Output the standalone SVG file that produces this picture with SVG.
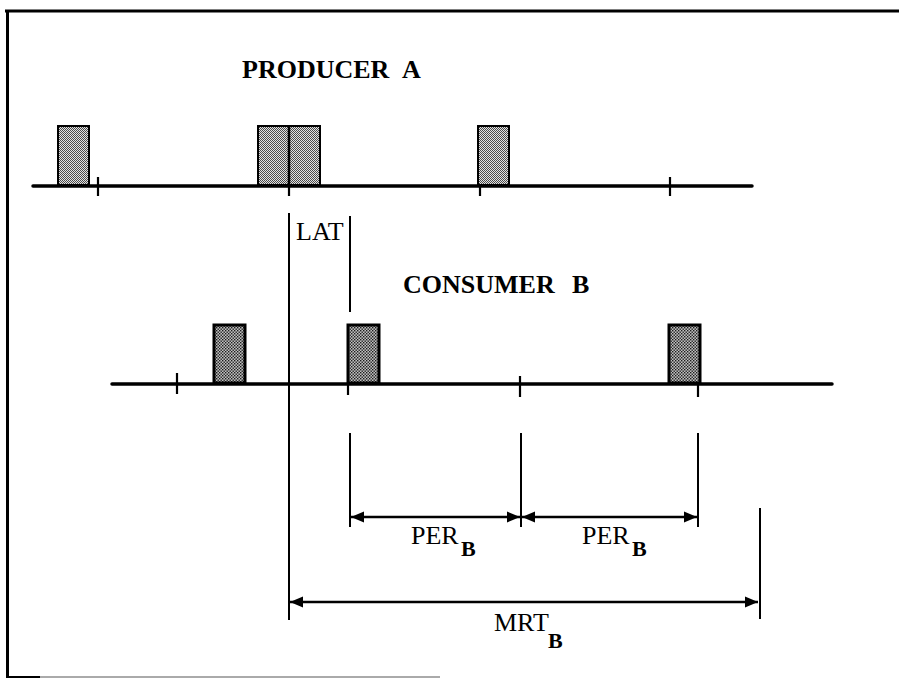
<svg xmlns="http://www.w3.org/2000/svg" width="899" height="679" viewBox="0 0 899 679">
<style>
.bold{font-family:"Liberation Serif","Times New Roman",serif;font-weight:bold;fill:#000}
.reg{font-family:"Liberation Serif","Times New Roman",serif;font-size:26px;fill:#000}
.sub{font-family:"Liberation Serif","Times New Roman",serif;font-weight:bold;font-size:22px;fill:#000}
.axis{stroke:#000;stroke-width:3.5;fill:none;stroke-linecap:round}
.tick{stroke:#000;stroke-width:2.2;fill:none}
.guide{stroke:#000;stroke-width:2;fill:none}
.dim{stroke:#000;stroke-width:2.5;fill:none;marker-start:url(#ah);marker-end:url(#ah)}
.pa{fill:url(#stipA);stroke:#000;stroke-width:2}
.pb{fill:url(#stipB);stroke:#000;stroke-width:3}
</style>
<defs>
<pattern id="stipA" width="2" height="2" patternUnits="userSpaceOnUse">
<rect width="2" height="2" fill="#e2e2e2"/>
<rect width="1" height="1" fill="#4a4a4a"/>
<rect x="1" y="1" width="1" height="1" fill="#4a4a4a"/>
</pattern>
<pattern id="stipB" width="3" height="3" patternUnits="userSpaceOnUse">
<rect width="3" height="3" fill="#c0c0c0"/>
<rect width="1.4" height="1.4" fill="#1a1a1a"/>
<rect x="1.5" y="1.5" width="1.4" height="1.4" fill="#1a1a1a"/>
</pattern>
<marker id="ah" markerUnits="userSpaceOnUse" markerWidth="14" markerHeight="12" viewBox="0 0 14 12" refX="13" refY="6" orient="auto-start-reverse">
<path d="M0,0.5 L13,6 L0,11.5 z" fill="#000"/>
</marker>
</defs>
<rect width="899" height="679" fill="#fff"/>
<g id="frame">
<line x1="5" y1="11" x2="899" y2="11" stroke="#000" stroke-width="3"/>
<line x1="7.5" y1="10" x2="7.5" y2="678" stroke="#000" stroke-width="3"/>
<line x1="6" y1="677" x2="40" y2="677" stroke="#000" stroke-width="2"/>
<line x1="40" y1="677" x2="440" y2="677" stroke="#aaa" stroke-width="2"/>
</g>
<g id="producer-a">
<text class="bold" x="242" y="78" font-size="26">PRODUCER</text>
<text class="bold" x="402" y="78" font-size="26">A</text>
<line class="axis" x1="33" y1="186" x2="752" y2="186"/>
<line class="tick" x1="98" y1="177" x2="98" y2="196"/>
<line class="tick" x1="289" y1="186" x2="289" y2="196"/>
<line class="tick" x1="480" y1="186" x2="480" y2="196"/>
<line class="tick" x1="670" y1="177" x2="670" y2="196"/>
<rect class="pa" x="58" y="126" width="31" height="59"/>
<rect class="pa" x="258" y="126" width="62" height="59"/>
<line x1="289" y1="126" x2="289" y2="185" stroke="#000" stroke-width="2.5"/>
<rect class="pa" x="478" y="126" width="31" height="59"/>
</g>
<g id="consumer-b">
<text class="bold" x="403" y="293" font-size="26">CONSUMER</text>
<text class="bold" x="572" y="293" font-size="26">B</text>
<line class="axis" x1="112" y1="384" x2="832" y2="384"/>
<line class="tick" x1="177" y1="373" x2="177" y2="394"/>
<line class="tick" x1="348" y1="384" x2="348" y2="395"/>
<line class="tick" x1="520" y1="376" x2="520" y2="397"/>
<line class="tick" x1="698" y1="384" x2="698" y2="397"/>
<rect class="pb" x="214" y="325" width="31" height="58"/>
<rect class="pb" x="348" y="325" width="31" height="58"/>
<rect class="pb" x="669" y="325" width="31" height="58"/>
</g>
<g id="lat">
<text class="reg" x="296" y="240">LAT</text>
</g>
<g id="per-b-1">
<text class="reg" x="411" y="544">PER</text>
<text class="sub" x="461" y="556">B</text>
</g>
<g id="per-b-2">
<text class="reg" x="582" y="544">PER</text>
<text class="sub" x="632" y="556">B</text>
</g>
<g id="mrt-b">
<text class="reg" x="494" y="631">MRT</text>
<text class="sub" x="548" y="648" font-size="24">B</text>
</g>
<g id="connectors">
<line class="guide" x1="289" y1="213" x2="289" y2="620"/>
<line class="guide" x1="350" y1="216" x2="350" y2="312"/>
<line class="guide" x1="350" y1="433" x2="350" y2="527"/>
<line class="guide" x1="521" y1="433" x2="521" y2="527"/>
<line class="guide" x1="698" y1="433" x2="698" y2="527"/>
<line class="guide" x1="760" y1="508" x2="760" y2="619"/>
<line class="dim" x1="351" y1="517" x2="520" y2="517"/>
<line class="dim" x1="522" y1="517" x2="697" y2="517"/>
<line class="dim" x1="290" y1="602" x2="758" y2="602"/>
</g>
</svg>
